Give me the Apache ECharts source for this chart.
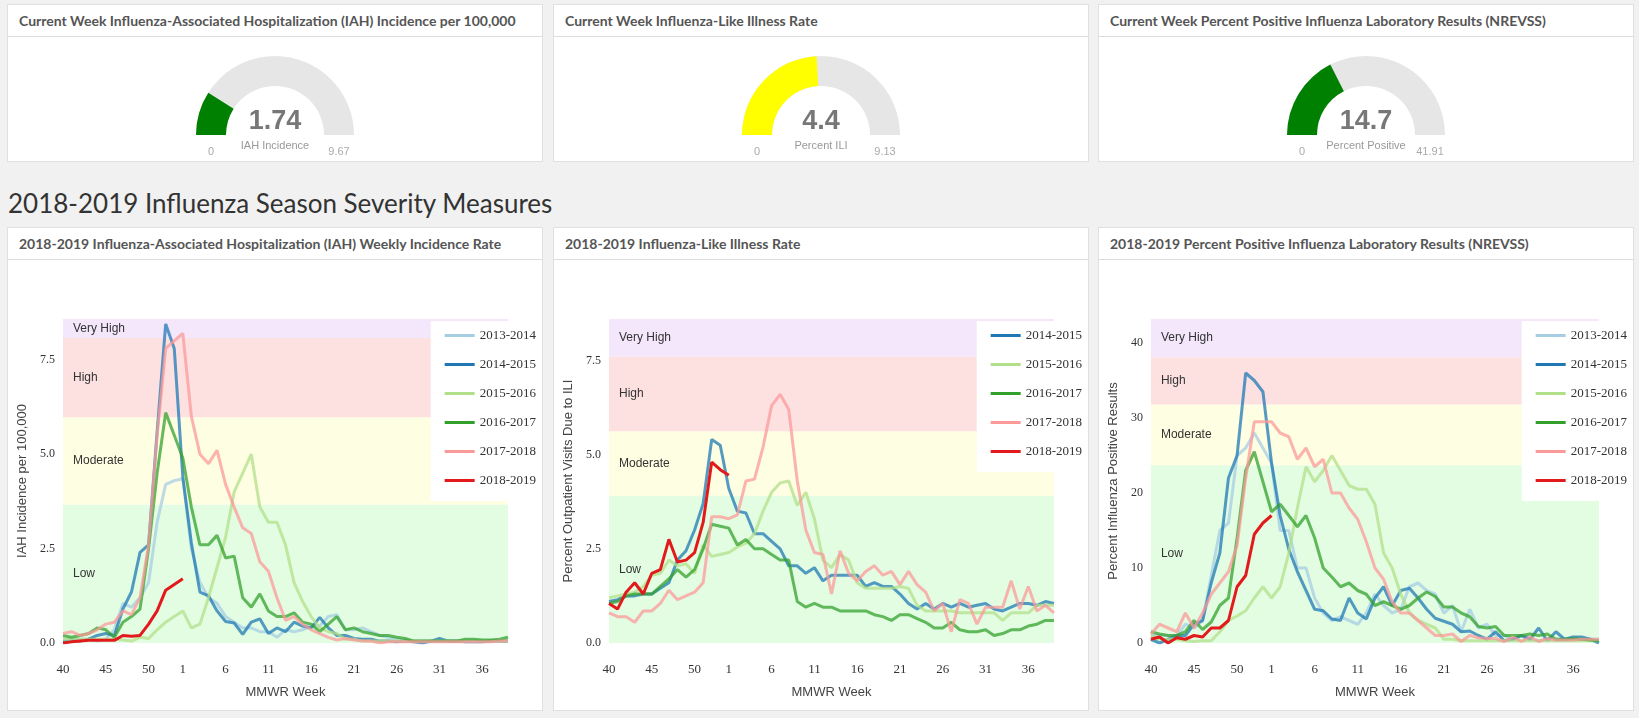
<!DOCTYPE html>
<html>
<head>
<meta charset="utf-8">
<script src="https://cdn.jsdelivr.net/npm/echarts@6/dist/echarts.min.js"></script>
<style>
  body { margin: 0; background: #f1f1f1; font-family: Lato, sans-serif; width: 1639px; height: 718px; overflow: hidden; position: relative; }
  .panel { position: absolute; background: #fff; border: 1px solid #e0e0e0; box-sizing: border-box; }
  .panel h3 { margin: 0; height: 32px; line-height: 31px; padding-left: 11px; font-size: 14px; font-weight: bold; color: #555; border-bottom: 1px solid #ddd; box-sizing: border-box; white-space: nowrap; }
  .body { position: absolute; left: 0; right: 0; bottom: 0; }
  .top .body { top: 32px; }
  .low .body { top: 32px; }
  h2 { position: absolute; left: 8px; top: 187px; margin: 0; font-weight: normal; font-size: 26px; color: #333; }
</style>
</head>
<body>

<div class="panel top" style="left:7px;top:4px;width:536px;height:158px"><h3>Current Week Influenza-Associated Hospitalization (IAH) Incidence per 100,000</h3><div class="body" id="g1"></div></div>
<div class="panel top" style="left:553px;top:4px;width:536px;height:158px"><h3>Current Week Influenza-Like Illness Rate</h3><div class="body" id="g2"></div></div>
<div class="panel top" style="left:1098px;top:4px;width:536px;height:158px"><h3>Current Week Percent Positive Influenza Laboratory Results (NREVSS)</h3><div class="body" id="g3"></div></div>

<h2>2018-2019 Influenza Season Severity Measures</h2>

<div class="panel low" style="left:7px;top:227px;width:536px;height:484px"><h3>2018-2019 Influenza-Associated Hospitalization (IAH) Weekly Incidence Rate</h3><div class="body" id="c1"></div></div>
<div class="panel low" style="left:553px;top:227px;width:536px;height:484px"><h3>2018-2019 Influenza-Like Illness Rate</h3><div class="body" id="c2"></div></div>
<div class="panel low" style="left:1098px;top:227px;width:536px;height:484px"><h3>2018-2019 Percent Positive Influenza Laboratory Results (NREVSS)</h3><div class="body" id="c3"></div></div>

<script>
// MMWR weeks 40..53 then 1..39
var weeks = [];
for (var w = 40; w <= 53; w++) weeks.push(String(w));
for (var w = 1; w <= 39; w++) weeks.push(String(w));

var seasons = ['2013-2014', '2014-2015', '2015-2016', '2016-2017', '2017-2018', '2018-2019'];
var seasonColors = ['#a6cee3', '#1f78b4', '#b2df8a', '#33a02c', '#fb9a99', '#e31a1c'];

// current week gauges
var gaugeValues = [1.74, 4.4, 14.7];
var gaugeMax = [9.67, 9.13, 41.91];
var gaugeNames = ['IAH Incidence', 'Percent ILI', 'Percent Positive'];
var gaugeColors = ['#008000', '#ffff00', '#008000'];

// IAH weekly incidence
var iah1314 = [0.1,0.1,0.1,0.1,0.05,0.1,0.35,1.05,0.95,1.2,1.6,3.2,4.2,4.3,4.35,2.5,1.6,1.2,1.05,0.7,0.55,0.4,0.4,0.3,0.3,0.15,0.35,0.3,0.35,0.45,0.45,0.7,0.75,0.35,0.35,0.4,0.3,0.2,0.15,0.1,0.08,0.05,0.05,0.05,0.05,0.05,0.05,0.05,0.05,0.05,0.05,0.05,0.05];
var iah1415 = [0.03,0.05,0.05,0.1,0.2,0.25,0.2,0.9,1.35,2.4,2.6,5.6,8.45,7.8,4.4,2.65,1.35,1.25,0.85,0.57,0.53,0.23,0.55,0.64,0.25,0.4,0.3,0.55,0.45,0.4,0.68,0.4,0.2,0.2,0.12,0.1,0.1,0.05,0.05,0.03,0.05,0.03,0.0,0.05,0.12,0.05,0.05,0.03,0.03,0.03,0.05,0.05,0.05];
var iah1516 = [0.1,0.1,0.1,0.1,0.1,0.1,0.1,0.08,0.05,0.15,0.12,0.35,0.55,0.7,0.85,0.4,0.5,1.2,2.0,2.8,4.0,4.5,5.0,3.6,3.2,3.2,2.6,1.6,1.1,0.7,0.4,0.3,0.25,0.1,0.1,0.05,0.05,0.05,0.05,0.05,0.05,0.05,0.05,0.05,0.05,0.05,0.05,0.05,0.05,0.05,0.05,0.05,0.05];
var iah1617 = [0.2,0.15,0.2,0.25,0.4,0.35,0.15,0.55,0.7,0.9,2.5,4.5,6.1,5.5,4.9,3.6,2.6,2.6,2.85,2.25,2.3,1.2,0.95,1.3,0.85,0.7,0.7,0.8,0.55,0.5,0.3,0.5,0.7,0.35,0.4,0.3,0.25,0.2,0.2,0.15,0.12,0.05,0.05,0.05,0.05,0.05,0.05,0.1,0.1,0.08,0.08,0.1,0.15];
var iah1718 = [0.25,0.3,0.2,0.25,0.35,0.5,0.55,0.85,0.75,1.2,2.6,5.5,7.8,8.0,8.2,6.0,5.0,4.75,5.1,4.2,3.6,3.05,2.9,2.15,1.9,1.2,0.6,0.7,0.5,0.35,0.25,0.15,0.08,0.12,0.08,0.05,0.05,0.0,0.03,0.03,0.03,0.03,0.03,0.03,0.03,0.03,0.03,0.03,0.03,0.03,0.03,0.05,0.05];
var iah1819 = [0.0,0.03,0.05,0.07,0.07,0.07,0.07,0.2,0.18,0.2,0.5,0.85,1.4,1.55,1.7];

// ILI rate
var ili1415 = [1.1,1.15,1.25,1.25,1.3,1.3,1.45,1.6,2.2,2.45,3.0,3.7,5.4,5.25,4.1,3.5,3.45,2.9,2.9,2.7,2.5,2.05,2.05,1.85,2.0,1.65,1.8,1.8,1.8,1.8,1.5,1.6,1.5,1.5,1.3,1.05,0.9,1.05,0.9,1.05,0.95,1.05,0.95,1.0,1.05,0.9,0.85,0.95,1.05,1.05,1.0,1.1,1.05];
var ili1516 = [1.2,1.25,1.3,1.35,1.5,1.8,1.85,2.2,2.05,2.1,1.85,2.6,2.3,2.35,2.4,2.55,2.65,2.9,3.5,4.0,4.25,4.3,3.65,4.0,3.3,2.2,2.0,2.35,2.2,1.6,1.45,1.45,1.45,1.45,1.5,1.45,1.0,0.85,0.85,0.85,0.85,0.8,0.8,0.8,0.8,0.8,0.6,0.8,0.8,0.8,1.0,1.0,1.0];
var ili1617 = [1.05,1.1,1.25,1.3,1.3,1.3,1.5,1.7,1.95,1.75,1.95,2.5,3.15,3.1,3.05,2.6,2.75,2.5,2.5,2.35,2.2,2.2,1.1,0.95,1.05,0.95,0.95,0.85,0.85,0.85,0.85,0.75,0.7,0.6,0.75,0.75,0.65,0.55,0.4,0.4,0.55,0.35,0.3,0.3,0.35,0.2,0.25,0.35,0.35,0.45,0.5,0.6,0.6];
var ili1718 = [0.8,0.7,0.7,0.55,0.85,0.85,1.05,1.4,1.15,1.25,1.35,1.6,3.35,3.35,3.3,3.4,4.3,4.35,5.2,6.3,6.6,6.2,4.3,3.0,2.4,2.35,1.3,2.45,1.85,1.65,1.9,2.05,1.8,1.9,1.55,1.9,1.55,1.35,0.85,1.05,0.3,1.15,1.05,0.5,0.95,0.95,0.95,1.65,0.9,1.5,0.85,1.0,0.8];
var ili1819 = [1.05,0.9,1.35,1.6,1.3,1.85,1.95,2.75,2.15,2.2,2.4,3.2,4.8,4.6,4.45];

// NREVSS percent positive
var pos1314 = [1.0,1.0,1.0,1.0,2.5,2.0,3.0,9.0,15,16,25,26,28,26,24,15,15,10,10,6,4,3,3.5,3.0,2.5,4.0,6.5,5.0,4.0,4.5,7.5,8.0,7.0,6.5,4.0,5.0,1.5,4.5,2.0,2.5,1.0,1.0,0.5,1.0,0.5,0.3,0.5,0.5,0.5,0.5,0.5,0.5,0.5];
var pos1415 = [0.5,0.0,0.5,1.0,1.0,2.5,3.0,8.0,12,22,25,36,35,33.5,24,17,12.5,9.5,7,4.5,4.3,3.2,3.0,6.0,4.0,3.2,6.0,7.5,5.0,7.0,7.3,6.0,4.5,3.3,2.9,2.5,1.5,1.6,1.0,0.5,1.5,0.3,0.5,1.0,0.5,2.0,0.3,1.5,0.5,0.8,0.8,0.5,0.0];
var pos1516 = [1.0,0.5,0.5,0.5,0.3,0.2,0.3,0.3,1.5,3.0,3.6,4.3,6.0,7.5,6.0,7.5,12,18,23.5,21.5,23,25,23,21,20.5,20.5,18.5,12,10,6.5,4,3,2.5,2.0,0.5,0.5,0.3,0.3,0.3,0.3,0.3,0.3,0.3,0.3,0.3,0.3,0.3,0.3,0.3,0.3,0.3,0.3,0.3];
var pos1617 = [1.5,1.2,1.0,1.0,1.5,3.0,1.8,2.8,5.0,6.0,14,23,25.5,21.5,17.5,18.5,17,15.5,17,14,10,8.8,7.5,8.0,7.0,6.5,5.0,5.5,5.0,4.5,5.0,6.0,6.8,6.2,4.8,4.8,4.0,3.5,2.2,2.0,2.2,1.0,1.0,1.0,1.2,1.0,1.2,0.5,0.5,0.6,0.5,0.4,0.3];
var pos1718 = [1.2,2.5,2.0,1.5,4.0,2.0,4.0,6.5,8.0,9.5,13,22,29.5,29.5,29.5,28,27.5,24.5,26,23.5,24.5,20.0,20.0,18,16.5,13.5,10,8.5,5.5,4.0,4.0,3.0,2.0,1.0,1.0,1.2,0.2,1.0,0.7,0.6,0.6,0.2,0.8,0.2,0.8,0.2,0.6,0.4,0.4,0.4,0.5,0.5,0.5];
var pos1819 = [0.5,0.8,0.0,0.7,0.5,1.0,0.8,2.0,2.0,3.0,7.5,9.0,14.5,16,17];

// severity thresholds: [low top, moderate top, high top]
var iahBands = [3.67, 5.98, 8.08];
var iliBands = [3.9, 5.62, 7.6];
var posBands = [23.7, 31.8, 38.1];

// GAUGES
function makeGauge(id, k) {
    var el = document.getElementById(id);
    var chart = echarts.init(el);
    var cx = el.clientWidth / 2;
    chart.setOption({
        series: [{
            type: 'gauge',
            startAngle: 180,
            endAngle: 0,
            min: 0,
            max: gaugeMax[k],
            center: [cx, 98],
            radius: 79,
            pointer: { show: false },
            axisLine: { lineStyle: { width: 30, color: [[1, '#e6e6e6']] } },
            progress: { show: true, width: 30, itemStyle: { color: gaugeColors[k] } },
            splitLine: { show: false },
            axisTick: { show: false },
            axisLabel: { show: false },
            anchor: { show: false },
            title: { offsetCenter: [0, 11], fontSize: 11, color: '#999', fontFamily: 'Arial' },
            detail: { offsetCenter: [0, -13], fontSize: 27, fontWeight: 'bold', color: '#777', fontFamily: 'Arial', formatter: function (v) { return String(v); } },
            data: [{ value: gaugeValues[k], name: gaugeNames[k] }]
        }],
        graphic: [
            { type: 'text', x: cx - 64, y: 109, style: { text: '0', fill: '#aaa', font: '11px Arial', align: 'center' } },
            { type: 'text', x: cx + 64, y: 109, style: { text: String(gaugeMax[k]), fill: '#aaa', font: '11px Arial', align: 'center' } }
        ]
    });
}
makeGauge('g1', 0);
makeGauge('g2', 1);
makeGauge('g3', 2);

// LINE CHARTS
function showWeek(i) {
    return i < 14 ? i % 5 === 0 : (i - 14) % 5 === 0;
}

function makeLine(id, opts) {
    var chart = echarts.init(document.getElementById(id));
    var b = opts.bands;
    var series = opts.names.map(function (name, j) {
        var isRed = name === '2018-2019';
        return {
            name: name,
            type: 'line',
            data: opts.data[j],
            showSymbol: false,
            symbol: 'none',
            z: 3 + j,
            lineStyle: { width: 3, color: opts.colors[j], opacity: isRed ? 1 : 0.75 },
            itemStyle: { color: opts.colors[j] }
        };
    });
    series.push({
        type: 'line',
        data: [],
        silent: true,
        markArea: {
            silent: true,
            label: { position: 'insideLeft', color: '#333', fontSize: 12, fontFamily: 'Arial', distance: 10 },
            data: [
                [{ name: 'Low', yAxis: 0, itemStyle: { color: '#e3fde3' } }, { yAxis: b[0] }],
                [{ name: 'Moderate', yAxis: b[0], itemStyle: { color: '#fefee3' } }, { yAxis: b[1] }],
                [{ name: 'High', yAxis: b[1], itemStyle: { color: '#fde1e1' } }, { yAxis: b[2] }],
                [{ name: 'Very High', yAxis: b[2], itemStyle: { color: '#f4e6fb' } }, { yAxis: opts.max }]
            ]
        }
    });
    chart.setOption({
        animation: false,
        grid: { left: opts.left, right: 34, top: 59, bottom: 67 },
        legend: {
            data: opts.names,
            orient: 'vertical',
            right: 0,
            top: 61,
            backgroundColor: '#fff',
            padding: [8, 6, 14, 14],
            itemWidth: 30,
            itemHeight: 3,
            itemGap: 16,
            icon: 'rect',
            textStyle: { fontFamily: 'Liberation Serif', fontSize: 13, color: '#333' }
        },
        xAxis: {
            type: 'category',
            data: weeks,
            boundaryGap: false,
            name: 'MMWR Week',
            nameLocation: 'middle',
            nameGap: 43,
            nameTextStyle: { fontFamily: 'Arial', fontSize: 13, color: '#444' },
            axisLine: { show: false },
            axisTick: { show: false },
            axisLabel: { interval: function (i) { return showWeek(i); }, fontFamily: 'Liberation Serif', fontSize: 13, color: '#333', margin: 20 },
            splitLine: { show: false }
        },
        yAxis: {
            type: 'value',
            min: 0,
            max: opts.max,
            interval: opts.interval,
            name: opts.yName,
            nameLocation: 'middle',
            nameGap: opts.nameGap,
            nameTextStyle: { fontFamily: 'Arial', fontSize: 13, color: '#444' },
            axisLine: { show: false },
            axisTick: { show: false },
            splitLine: { show: false },
            axisLabel: {
                fontFamily: 'Liberation Serif', fontSize: 12, color: '#333', margin: 8,
                showMaxLabel: false,
                formatter: function (v) { return opts.decimals ? v.toFixed(1) : String(v); }
            }
        },
        series: series
    });
}

makeLine('c1', {
    names: seasons,
    colors: seasonColors,
    data: [iah1314, iah1415, iah1516, iah1617, iah1718, iah1819],
    bands: iahBands, max: 8.58, interval: 2.5, decimals: true,
    yName: 'IAH Incidence per 100,000', nameGap: 34, left: 51
});
makeLine('c2', {
    names: seasons.slice(1),
    colors: seasonColors.slice(1),
    data: [ili1415, ili1516, ili1617, ili1718, ili1819],
    bands: iliBands, max: 8.6, interval: 2.5, decimals: true,
    yName: 'Percent Outpatient Visits Due to ILI', nameGap: 34, left: 51
});
makeLine('c3', {
    names: seasons,
    colors: seasonColors,
    data: [pos1314, pos1415, pos1516, pos1617, pos1718, pos1819],
    bands: posBands, max: 43.2, interval: 10, decimals: false,
    yName: 'Percent Influenza Positive Results', nameGap: 30, left: 48
});
</script>
</body>
</html>
